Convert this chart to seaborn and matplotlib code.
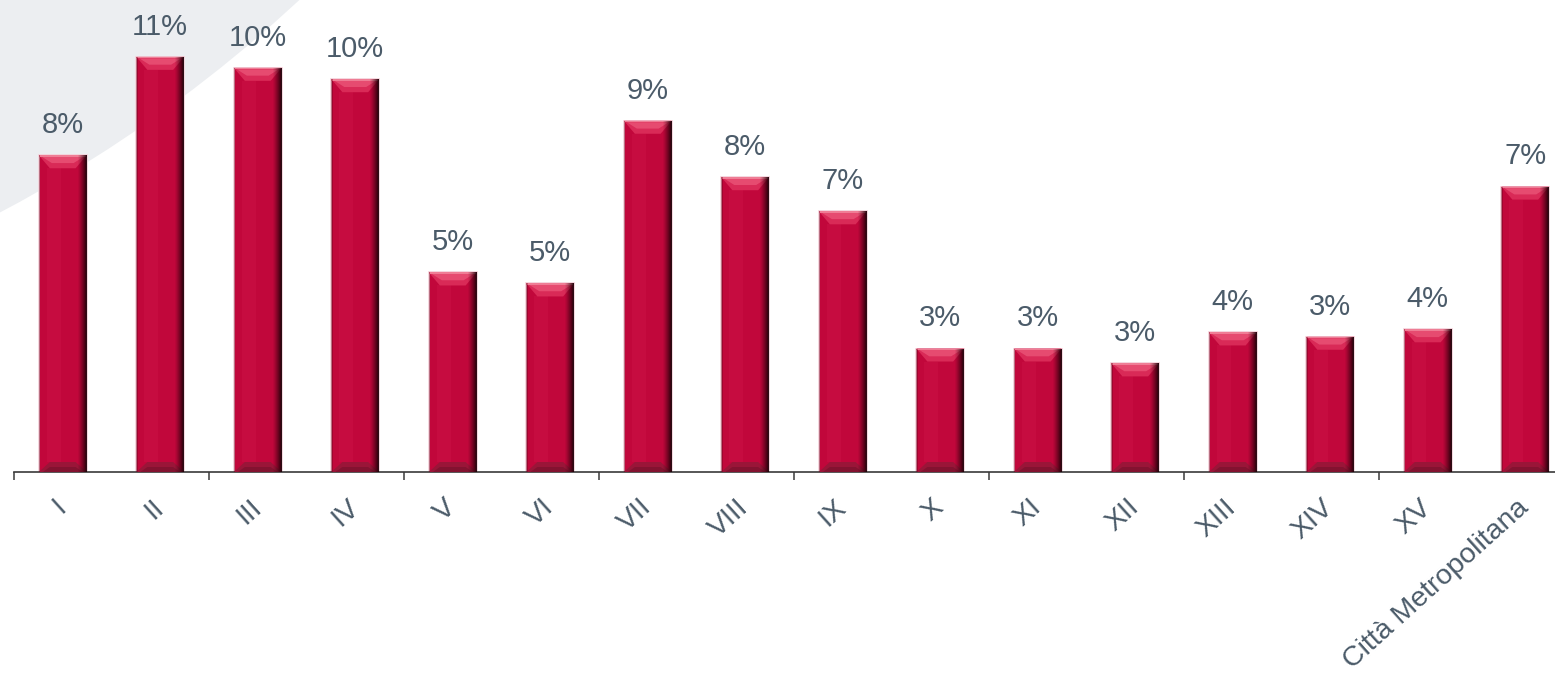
import matplotlib
matplotlib.use("Agg")
import matplotlib.pyplot as plt
import seaborn as sns
import pandas as pd
import numpy as np
from matplotlib.patches import Polygon, Circle, Rectangle

# ---- data ----
categories = ["I", "II", "III", "IV", "V", "VI", "VII", "VIII", "IX", "X",
              "XI", "XII", "XIII", "XIV", "XV", "Città Metropolitana"]
values = [8.08, 10.59, 10.31, 10.02, 5.09, 4.81, 8.96, 7.52, 6.65, 3.15,
          3.15, 2.77, 3.56, 3.45, 3.64, 7.28]

sns.set_style("white")
plt.rcParams["font.family"] = ["Liberation Sans", "DejaVu Sans"]

TEXT = "#4b5b69"
BODY = "#c1073b"

W, H, DPI = 15.55, 7.0, 100
fig = plt.figure(figsize=(W, H), dpi=DPI)
fig.patch.set_facecolor("white")

# decorative light-gray arc at top-left
fig.add_artist(Circle((-6.585, 17.32), 14.08, transform=fig.dpi_scale_trans,
                      facecolor="#eceef1", edgecolor="none", zorder=-5))

px_per_unit_y = 39.2
ymax = 12
ax = fig.add_axes([14 / 1555, (700 - 472) / 700, 1560 / 1555, ymax * px_per_unit_y / 700])
ax.set_facecolor("none")

df = pd.DataFrame({"cat": categories, "val": values})
sns.barplot(data=df, x="cat", y="val", order=categories, color=BODY,
            saturation=1, width=0.49, ax=ax, edgecolor="#f4d0d9", linewidth=1.2)

ax.set_xlim(-0.5, 15.5)
ax.set_ylim(0, ymax)

# bevel decoration derived from the bar patches
xpx = 1 / 97.5          # data units per pixel (x)
ypx = 1 / px_per_unit_y  # data units per pixel (y)
top_t = 13 * ypx
bot_t = 10 * ypx
inset = 11 * xpx
for p in list(ax.patches):
    x0, w, h = p.get_x(), p.get_width(), p.get_height()
    x1 = x0 + w
    # soft highlight in the body
    ax.add_patch(Rectangle((x0 + 8 * xpx, bot_t), 14 * xpx, h - top_t - bot_t,
                           facecolor="#d0164a", alpha=0.35, edgecolor="none", zorder=2.5))
    # top bevel
    ax.add_patch(Polygon([(x0, h), (x1, h), (x1 - inset, h - top_t), (x0 + inset, h - top_t)],
                         closed=True, facecolor="#d92a57", edgecolor="none", zorder=3))
    ax.add_patch(Polygon([(x0 + 3 * xpx, h - 1.5 * ypx), (x1 - 3 * xpx, h - 1.5 * ypx),
                          (x1 - inset - 2 * xpx, h - top_t * 0.6), (x0 + inset + 2 * xpx, h - top_t * 0.6)],
                         closed=True, facecolor="#ec5a7c", edgecolor="none", zorder=3, alpha=0.7))
    ax.add_patch(Rectangle((x0, h - 1.5 * ypx), w, 1.5 * ypx, facecolor="#ef7d95",
                           edgecolor="none", zorder=3))
    # bottom bevel
    ax.add_patch(Polygon([(x0, 0), (x1, 0), (x1 - inset, bot_t), (x0 + inset, bot_t)],
                         closed=True, facecolor="#9a1538", edgecolor="none", zorder=3))
    ax.add_patch(Polygon([(x0 + 4 * xpx, 0), (x1 - 4 * xpx, 0), (x1 - inset, bot_t * 0.5),
                          (x0 + inset, bot_t * 0.5)],
                         closed=True, facecolor="#74102b", edgecolor="none", zorder=3, alpha=0.6))
    # subtle left edge
    ax.add_patch(Rectangle((x0, 0), 1.5 * xpx, h, facecolor="#5a0016", alpha=0.35,
                           edgecolor="none", zorder=4))
    # right dark gradient
    n = 9
    for i in range(n):
        a = 0.92 * (1 - i / n) ** 1.3
        ax.add_patch(Rectangle((x1 - (i + 1) * xpx, 0), xpx, h, facecolor="#1a0006",
                               alpha=a, edgecolor="none", zorder=4))

# value labels
for i, v in enumerate(values):
    ax.annotate(f"{v:.0f}%", (i, v), xytext=(0, 16), textcoords="offset points",
                ha="center", va="baseline", fontsize=21, color=TEXT, zorder=5)

# axes styling
for s in ["top", "right", "left"]:
    ax.spines[s].set_visible(False)
ax.spines["bottom"].set_color("#3a3a3a")
ax.spines["bottom"].set_linewidth(1.2)
ax.set_yticks([])
ax.set_xlabel("")
ax.set_ylabel("")

ax.set_xticks(range(len(categories)))
ax.set_xticklabels(categories)
ax.set_xticks(np.arange(-0.5, 14, 2), minor=True)
ax.tick_params(axis="x", which="major", length=0, pad=23, labelsize=20.5, labelcolor=TEXT)
ax.tick_params(axis="x", which="minor", length=6, width=1.1, color="#3a3a3a", direction="out",
               bottom=True)
for lab in ax.get_xticklabels():
    lab.set_rotation(42)
    lab.set_ha("right")
    lab.set_va("center")
    lab.set_rotation_mode("anchor")

fig.savefig("out.png", dpi=DPI, facecolor="white")
